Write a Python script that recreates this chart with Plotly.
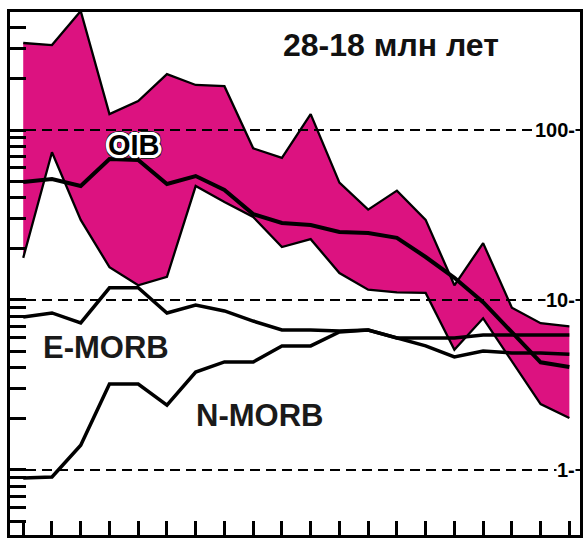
import math
import plotly.graph_objects as go

# Element positions (20 normalised elements, unlabeled in the original)
elements = list(range(20))

# OIB field (upper / lower envelope) and average
oib_upper = [325, 316, 501, 124, 148, 213, 184, 181, 78, 68.5, 124, 49, 34, 44, 29.6, 12.2, 21.6, 9.0, 7.3, 7.0]
oib_lower = [17.7, 74, 29.6, 15.6, 12.2, 13.7, 46.8, 37.7, 30.8, 20.5, 22.8, 14.4, 11.5, 11.1, 11.0, 5.1, 7.8, 4.4, 2.44, 2.02]
oib_avg = [49.4, 51.5, 46.8, 67.5, 66.6, 48.1, 53.6, 44.4, 32.0, 28.4, 27.6, 25.1, 24.8, 23.2, 17.9, 13.5, 9.7, 6.5, 4.3, 4.04]

# MORB reference patterns
e_morb = [7.94, 8.39, 7.33, 11.8, 11.8, 8.39, 9.35, 8.62, 7.52, 6.66, 6.66, 6.57, 6.66, 5.98, 5.37, 4.62, 5.01, 4.88, 4.88, 4.80]
n_morb = [0.897, 0.91, 1.40, 3.20, 3.20, 2.41, 3.77, 4.32, 4.32, 5.37, 5.37, 6.48, 6.66, 5.98, 5.98, 5.98, 6.22, 6.22, 6.22, 6.22]

# Reference levels (dashed) and their labels
ref_levels = [100, 10, 1]
ref_labels = ["100-", "10-", "1-"]

title_text = "28-18 млн лет"

FILL = "#DC1280"
FONT = "Liberation Sans, Arial, sans-serif"

W, H = 586, 538
ML, MR, MT, MB = 10, 3, 12, 3
PW, PH = W - ML - MR, H - MT - MB

x_range = [-0.4603, 19.370]
y_range = [-0.3824, 2.6941]

fig = go.Figure()

# OIB field fill (no outline on the vertical ends)
fig.add_trace(go.Scatter(
    x=elements + elements[::-1],
    y=oib_upper + oib_lower[::-1],
    fill="toself", fillcolor=FILL, mode="lines",
    line=dict(width=0, color=FILL), hoverinfo="skip", showlegend=False))

# dashed reference lines
for lv in ref_levels:
    fig.add_trace(go.Scatter(
        x=[x_range[0], x_range[1]], y=[lv, lv], mode="lines",
        line=dict(color="black", width=2.2, dash="10px,6px"),
        hoverinfo="skip", showlegend=False))

for ys, w in [(oib_upper, 2.3), (oib_lower, 2.3), (oib_avg, 4), (e_morb, 3.5), (n_morb, 3.5)]:
    fig.add_trace(go.Scatter(
        x=elements, y=ys, mode="lines",
        line=dict(color="black", width=w), hoverinfo="skip", showlegend=False))

# minor/major tick positions on log axis
tickvals = []
for k in range(-1, 3):
    for d in range(1, 10):
        v = d * 10 ** k
        if 10 ** y_range[0] <= v <= 400.5:
            tickvals.append(v)

def px2paper(px, py):
    return (px - ML) / PW, 1 - (py - MT) / PH

annotations = []
for lv, lab in zip(ref_levels, ref_labels):
    fx, fy = px2paper(579, MT + PH * (1 - (math.log10(lv) - y_range[0]) / (y_range[1] - y_range[0])))
    annotations.append(dict(
        x=fx, y=fy, xref="paper", yref="paper", xanchor="right", yanchor="middle",
        text="<b>" + lab + "</b>", showarrow=False, bgcolor="white", borderpad=0,
        font=dict(family=FONT, size=20, color="black")))

fx, fy = px2paper(393, 45)
annotations.append(dict(x=fx, y=fy, xref="paper", yref="paper", xanchor="center", yanchor="middle",
                        text="<b>" + title_text + "</b>", showarrow=False,
                        font=dict(family=FONT, size=32, color="#111")))
fx, fy = px2paper(107, 347)
annotations.append(dict(x=fx, y=fy, xref="paper", yref="paper", xanchor="center", yanchor="middle",
                        text="<b>E-MORB</b>", showarrow=False,
                        font=dict(family=FONT, size=31, color="#1a1a1a")))
fx, fy = px2paper(261, 415)
annotations.append(dict(x=fx, y=fy, xref="paper", yref="paper", xanchor="center", yanchor="middle",
                        text="<b>N-MORB</b>", showarrow=False,
                        font=dict(family=FONT, size=31, color="#1a1a1a")))

halo = []
for dx, dy in [(2, 0), (-2, 0), (0, 2), (0, -2), (2, 2), (-2, -2), (2, -2), (-2, 2),
               (3, 0), (-3, 0), (0, 3), (0, -3), (3, 1), (-3, 1), (3, -1), (-3, -1), (1, 3), (1, -3), (-1, 3), (-1, -3)]:
    halo.append(f"{dx}px {dy}px 0 #fff")
for dx, dy in [(4, 0), (-4, 0), (0, 4), (0, -4), (3, 3), (-3, -3), (3, -3), (-3, 3)]:
    halo.append(f"{dx}px {dy}px 0 #222")
fx, fy = px2paper(135, 145)
annotations.append(dict(x=fx, y=fy, xref="paper", yref="paper", xanchor="center", yanchor="middle",
                        text="<b>OIB</b>", showarrow=False,
                        font=dict(family=FONT, size=29, color="black", shadow=", ".join(halo))))

fig.update_layout(
    width=W, height=H,
    margin=dict(l=ML, r=MR, t=MT, b=MB, pad=0),
    paper_bgcolor="white", plot_bgcolor="white",
    showlegend=False,
    annotations=annotations,
    xaxis=dict(range=x_range, showgrid=False, zeroline=False, showticklabels=False,
               ticks="inside", ticklen=14, tickwidth=2.5, tickcolor="black",
               tickmode="array", tickvals=elements,
               showline=True, mirror=True, linewidth=3, linecolor="black"),
    yaxis=dict(type="log", range=y_range, showgrid=False, zeroline=False, showticklabels=False,
               ticks="inside", ticklen=16, tickwidth=2.5, tickcolor="black",
               tickmode="array", tickvals=tickvals,
               showline=True, mirror=True, linewidth=3, linecolor="black"),
)

fig.write_html("out.html", config={"displayModeBar": False},
               post_script="document.body.style.margin='0';")
